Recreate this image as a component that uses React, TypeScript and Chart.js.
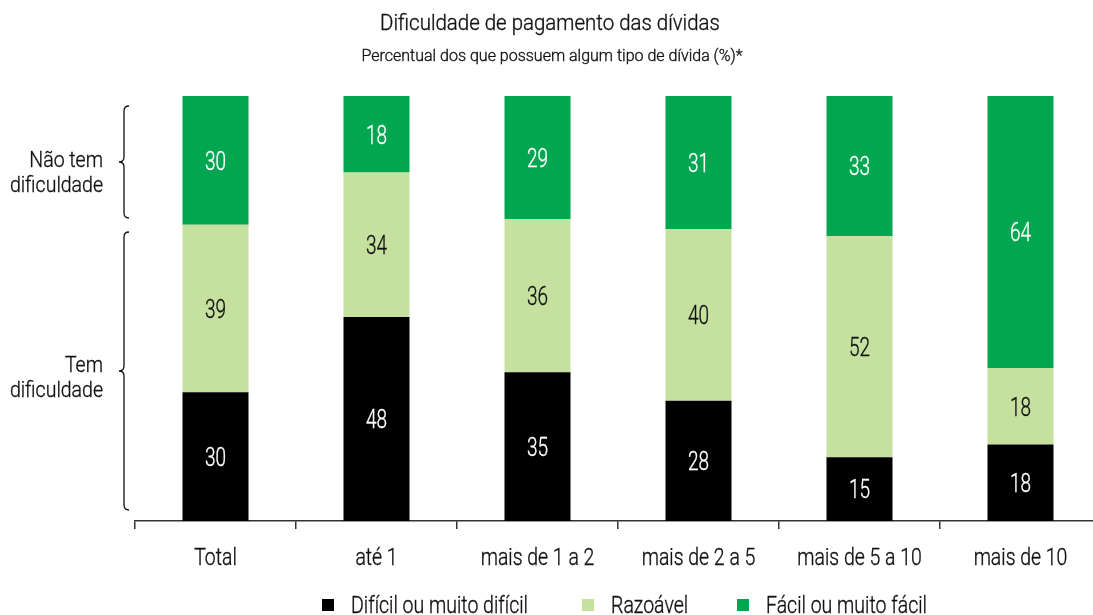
import React, { useEffect, useRef } from "react";
import { Chart, registerables } from "chart.js";

Chart.register(...registerables);

const categories = ["Total", "até 1", "mais de 1 a 2", "mais de 2 a 5", "mais de 5 a 10", "mais de 10"];
const dificil = [30, 48, 35, 28, 15, 18];
const razoavel = [39, 34, 36, 40, 52, 18];
const facil = [30, 18, 29, 31, 33, 64];
const seriesNames = ["Difícil ou muito difícil", "Razoável", "Fácil ou muito fácil"];
const colors = ["#000000", "#c5e09f", "#00a650"];
const labelColors = ["#ffffff", "#111111", "#ffffff"];
const titleText = "Dificuldade de pagamento das dívidas";
const subtitleText = "Percentual dos que possuem algum tipo de dívida (%)*";
const groupLabels = [["Não tem", "dificuldade"], ["Tem", "dificuldade"]];

const FONT = 'Roboto, "DejaVu Sans Condensed", sans-serif';

const W = 1110;
const H = 615;

function normalize(arr: number[]) {
  return arr.map((v, k) => (v / (dificil[k] + razoavel[k] + facil[k])) * 100);
}

function drawText(ctx: any, text: string, x: number, y: number, size: number, sx: number, align: string, color: string) {
  ctx.save();
  ctx.translate(x, y + 2);
  ctx.scale(sx, 1);
  ctx.font = `300 ${size}px ${FONT}`;
  ctx.textAlign = align;
  ctx.textBaseline = "middle";
  ctx.fillStyle = color;
  ctx.fillText(text, 0, 0);
  // slight faux-weight to sit between light and regular
  ctx.strokeStyle = color;
  ctx.lineWidth = 0.35;
  ctx.strokeText(text, 0, 0);
  ctx.restore();
}

const overlayPlugin = {
  id: "overlay",
  afterDatasetsDraw(chart: any) {
    const ctx = chart.ctx;
    const raws = [dificil, razoavel, facil];
    chart.data.datasets.forEach((ds: any, di: number) => {
      const meta = chart.getDatasetMeta(di);
      meta.data.forEach((el: any, i: number) => {
        const yMid = (el.y + el.base) / 2;
        drawText(ctx, String(raws[di][i]), el.x, yMid + 1, 25, 0.76, "center", labelColors[di]);
      });
    });
  },
  afterDraw(chart: any) {
    const ctx = chart.ctx;
    drawText(ctx, titleText, 550, 22, 22, 0.93, "center", "#111");
    drawText(ctx, subtitleText, 552, 55, 16, 1.0, "center", "#111");

    const xs = chart.scales.x;
    categories.forEach((c, i) => {
      drawText(ctx, c, xs.getPixelForTick(i), 557, 23, 0.845, "center", "#111");
    });

    ctx.save();
    const drawBrace = (x: number, y1: number, y2: number) => {
      const ym = (y1 + y2) / 2;
      ctx.beginPath();
      ctx.moveTo(x + 5, y1);
      ctx.quadraticCurveTo(x, y1, x, y1 + 5);
      ctx.lineTo(x, ym - 5);
      ctx.quadraticCurveTo(x, ym, x - 5, ym);
      ctx.quadraticCurveTo(x, ym, x, ym + 5);
      ctx.lineTo(x, y2 - 5);
      ctx.quadraticCurveTo(x, y2, x + 5, y2);
      ctx.strokeStyle = "#111";
      ctx.lineWidth = 1.3;
      ctx.stroke();
    };
    const yScale = chart.scales.y;
    const yTop = yScale.getPixelForValue(100);
    const yBot = yScale.getPixelForValue(0);
    drawBrace(124, yTop + 10, yTop + 122);
    drawBrace(124, yTop + 136, yBot - 11);
    ctx.restore();
    drawText(ctx, groupLabels[0][0], 103, 159, 22, 0.887, "right", "#111");
    drawText(ctx, groupLabels[0][1], 103, 184, 22, 0.887, "right", "#111");
    drawText(ctx, groupLabels[1][0], 103, 364, 22, 0.887, "right", "#111");
    drawText(ctx, groupLabels[1][1], 103, 389, 22, 0.887, "right", "#111");

    const legendX = [322, 582, 737];
    seriesNames.forEach((name, i) => {
      ctx.save();
      ctx.fillStyle = colors[i];
      ctx.fillRect(legendX[i], 599, 12, 12);
      ctx.restore();
      drawText(ctx, name, legendX[i] + 29, 605, 23, 0.848, "left", "#111");
    });
  },
};

export default function App() {
  const ref = useRef<HTMLCanvasElement | null>(null);
  useEffect(() => {
    if (!ref.current) return;
    const chart = new Chart(ref.current, {
      type: "bar",
      data: {
        labels: categories,
        datasets: [dificil, razoavel, facil].map((arr, i) => ({
          label: seriesNames[i],
          data: normalize(arr),
          backgroundColor: colors[i],
          borderWidth: 0,
          barPercentage: 0.41,
          categoryPercentage: 1,
        })),
      },
      options: {
        responsive: false,
        animation: false,
        devicePixelRatio: 1,
        layout: { padding: { left: 135, right: 9, top: 96, bottom: 0 } },
        plugins: {
          legend: { display: false },
          tooltip: { enabled: false },
          title: { display: false },
        },
        scales: {
          x: {
            stacked: true,
            afterFit: (s: any) => {
              s.height = 94;
            },
            border: { display: true, color: "#333", width: 1.5 },
            grid: { display: true, drawOnChartArea: false, drawTicks: true, tickLength: 8, color: "#333", lineWidth: 1.5, offset: true },
            ticks: { display: false },
          },
          y: {
            stacked: true,
            display: false,
            min: 0,
            max: 100,
          },
        },
      },
      plugins: [overlayPlugin],
    });
    return () => chart.destroy();
  }, []);
  return (
    <div style={{ position: "fixed", left: 0, top: 0, width: 1093, height: 615, overflow: "hidden", background: "#fff" }}>
      <canvas ref={ref} width={W} height={H} style={{ width: W, height: H, display: "block" }} />
    </div>
  );
}
